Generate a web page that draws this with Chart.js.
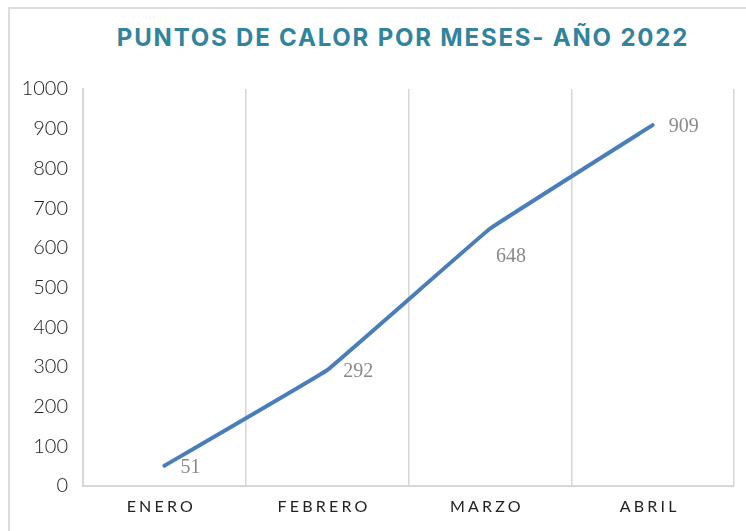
<!DOCTYPE html>
<html>
<head>
<meta charset="utf-8">
<script src="https://cdn.jsdelivr.net/npm/chart.js@4.4.0/dist/chart.umd.min.js"></script>
<style>
  html, body { margin: 0; padding: 0; background: #fff; }
  #wrap { position: relative; width: 746px; height: 531px; overflow: hidden; }
  #frame { position: absolute; left: 8px; top: 7px; width: 760px; height: 560px;
           border-left: 2px solid #dcdcdc; border-top: 2px solid #dcdcdc; }
  #title { position: absolute; left: 0; top: 21px; width: 806px; text-align: center;
           font-family: Inter, "Noto Sans", sans-serif; font-weight: 700; font-size: 24px;
           letter-spacing: 1.8px; color: #31849b; line-height: 34px; }
  canvas { position: absolute; left: 0; top: 0; }
</style>
</head>
<body>
<div id="wrap">
  <div id="frame"></div>
  <div id="title">PUNTOS DE CALOR POR MESES- AÑO 2022</div>
  <canvas id="myChart" width="746" height="531"></canvas>
</div>
<script>
var months = ["ENERO", "FEBRERO", "MARZO", "ABRIL"];
var puntos = [51, 292, 648, 909];
var yTicks = [0, 100, 200, 300, 400, 500, 600, 700, 800, 900, 1000];

// etiquetas de valores y del eje x (con espaciado de letras)
var labelsPlugin = {
  id: "labelsPlugin",
  afterDraw: function (chart) {
    var ctx = chart.ctx;
    var xs = chart.scales.x;
    ctx.save();
    ctx.font = "16px Lato, sans-serif";
    ctx.fillStyle = "#222";
    ctx.textAlign = "center";
    ctx.textBaseline = "middle";
    ctx.letterSpacing = "3.2px";
    months.forEach(function (m, i) {
      ctx.fillText(m, xs.getPixelForTick(i) - 3, chart.chartArea.bottom + 21);
    });
    ctx.letterSpacing = "0px";
    var pos = ["right", "right", "below", "right"];
    var meta = chart.getDatasetMeta(0);
    ctx.font = "20px 'Liberation Serif', serif";
    ctx.fillStyle = "#8a8a8a";
    ctx.textAlign = "left";
    meta.data.forEach(function (pt, i) {
      var x = pt.x + 16, y = pt.y + 2;
      if (pos[i] === "below") { x = pt.x + 6; y = pt.y + 28; }
      ctx.fillText(String(puntos[i]), x, y);
    });
    ctx.restore();
  }
};

new Chart(document.getElementById("myChart"), {
  type: "line",
  data: {
    labels: months,
    datasets: [{
      data: puntos,
      borderColor: "#4a7ebb",
      borderWidth: 4,
      borderCapStyle: "round",
      borderJoinStyle: "round",
      pointRadius: 0,
      fill: false,
      tension: 0.05
    }]
  },
  options: {
    responsive: false,
    animation: false,
    layout: { padding: { top: 89, right: 12, bottom: 0, left: 0 } },
    plugins: { legend: { display: false }, title: { display: false }, tooltip: { enabled: false } },
    scales: {
      x: {
        offset: true,
        grid: { display: true, offset: true, color: "#d6d6d6", lineWidth: 1.5, drawTicks: false },
        border: { display: true, color: "#d6d6d6", width: 2 },
        ticks: { display: false },
        afterFit: function (s) { s.height = 45; }
      },
      y: {
        min: 0, max: 1000,
        afterBuildTicks: function (s) { s.ticks = yTicks.map(function (v) { return { value: v }; }); },
        grid: { display: false, drawTicks: false },
        border: { display: true, color: "#d6d6d6", width: 2 },
        ticks: {
          padding: 15, color: "#222", font: { family: "Lato", size: 20, weight: 300 },
          callback: function (v) { return String(v); }
        },
        afterFit: function (s) { s.width = 83; }
      }
    }
  },
  plugins: [labelsPlugin]
});
</script>
</body>
</html>
